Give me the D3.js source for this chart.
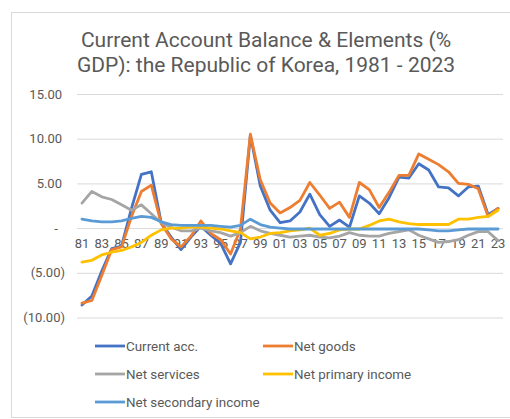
<!DOCTYPE html>
<html>
<head>
<meta charset="utf-8">
<script src="https://cdn.jsdelivr.net/npm/d3@7"></script>
<style>
  html, body { margin: 0; padding: 0; background: #fff; }
  svg { display: block; font-family: Roboto, "Noto Sans", sans-serif; }
</style>
</head>
<body>
<svg id="chart" width="510" height="419"></svg>
<script>
// Korea current account and its components, % of GDP, 1981-2023
const years = d3.range(1981, 2024);

const currentAcc = [-8.6, -7.6, -4.8, -2.3, -2.0, 2.2, 6.0, 6.3, 0.6, -1.0,
  -2.4, -1.0, 0.2, -0.8, -1.7, -4.0, -1.6, 10.4, 4.7, 2.0,
  0.6, 0.8, 1.8, 3.8, 1.5, 0.2, 0.9, 0.1, 3.6, 2.8,
  1.6, 3.4, 5.7, 5.6, 7.2, 6.5, 4.6, 4.5, 3.6, 4.6,
  4.7, 1.5, 2.2];

const netGoods = [-8.4, -8.1, -5.3, -2.4, -2.1, 1.3, 4.1, 4.8, 0.5, -1.2,
  -2.1, -0.9, 0.8, -0.6, -1.3, -2.9, -0.1, 10.5, 5.4, 2.8,
  1.7, 2.3, 3.1, 5.1, 3.7, 2.2, 2.9, 1.2, 5.1, 4.3,
  2.3, 4.0, 5.9, 5.9, 8.3, 7.7, 7.1, 6.3, 5.0, 4.9,
  4.4, 1.3, 2.2];

const netServices = [2.8, 4.1, 3.5, 3.2, 2.6, 2.0, 2.6, 1.6, 0.6, 0.1,
  -0.3, -0.3, 0.0, -0.3, -0.5, -0.9, -0.5, 0.2, -0.3, -0.6,
  -0.8, -1.0, -0.9, -0.8, -1.0, -1.1, -0.9, -0.5, -0.8, -0.9,
  -0.9, -0.6, -0.4, -0.2, -0.8, -1.2, -1.6, -1.5, -1.3, -0.8,
  -0.4, -0.4, -1.4];

const netPrimaryIncome = [-3.8, -3.6, -3.0, -2.7, -2.5, -2.1, -1.6, -0.8, -0.2, 0.0,
  0.0, 0.1, 0.1, 0.0, -0.1, -0.3, -0.5, -1.2, -1.0, -0.6,
  -0.5, -0.3, -0.2, 0.0, -0.8, -0.6, -0.2, -0.1, -0.1, 0.3,
  0.8, 1.0, 0.7, 0.5, 0.4, 0.4, 0.4, 0.4, 1.0, 1.0,
  1.2, 1.3, 2.0];

const netSecondaryIncome = [1.0, 0.8, 0.7, 0.7, 0.8, 1.1, 1.3, 1.2, 0.7, 0.4,
  0.3, 0.3, 0.3, 0.3, 0.2, 0.1, 0.3, 1.0, 0.4, 0.1,
  0.0, -0.1, -0.1, -0.1, -0.1, -0.1, -0.1, -0.1, -0.1, -0.1,
  -0.1, -0.1, -0.1, -0.1, -0.1, -0.2, -0.3, -0.3, -0.2, -0.1,
  -0.1, -0.1, -0.1];

const seriesNames = ["Current acc.", "Net goods", "Net services", "Net primary income", "Net secondary income"];
const seriesColors = ["#4472C4", "#ED7D31", "#A5A5A5", "#FFC000", "#5B9BD5"];
const seriesValues = [currentAcc, netGoods, netServices, netPrimaryIncome, netSecondaryIncome];

const yTicks = [-10, -5, 0, 5, 10, 15];
const xTickYears = years.filter((d, i) => i % 2 === 0);

const svg = d3.select("#chart");
const textColor = "#595959";

// chart frame
svg.append("rect")
  .attr("x", 11.5).attr("y", 12.5)
  .attr("width", 520).attr("height", 405)
  .attr("fill", "#fff").attr("stroke", "#d9d9d9");

// title
const title = svg.append("text")
  .attr("text-anchor", "middle")
  .attr("fill", textColor)
  .style("font-size", "21px");
title.append("tspan").attr("x", 266).attr("y", 47).text("Current Account Balance & Elements (%");
title.append("tspan").attr("x", 266).attr("y", 71.5).text("GDP): the Republic of Korea, 1981 - 2023");

const x = d3.scaleBand().domain(years).range([77, 503]);
const y = d3.scaleLinear().domain([-10, 15]).range([317.5, 94]);
const cx = d => x(d) + x.bandwidth() / 2;

// horizontal gridlines
svg.append("g")
  .attr("transform", "translate(77,0)")
  .call(d3.axisLeft(y).tickValues(yTicks).tickSize(-426).tickFormat(""))
  .call(g => g.select(".domain").remove())
  .call(g => g.selectAll(".tick line").attr("stroke", "#d9d9d9").attr("stroke-width", 1));

// value axis labels, accounting style
const fmt = d3.format(".2f");
const yAxis = svg.append("g")
  .attr("transform", "translate(62,0)")
  .call(d3.axisLeft(y).tickValues(yTicks).tickSize(0).tickPadding(0)
    .tickFormat(v => v === 0 ? "-" : v < 0 ? "(" + fmt(-v) + ")" : fmt(v)))
  .call(g => g.select(".domain").remove());
yAxis.selectAll(".tick text")
  .attr("fill", textColor)
  .style("font-size", "13px")
  .style("font-family", "Roboto, sans-serif")
  .attr("text-anchor", v => v === 0 ? "middle" : "end")
  .attr("x", v => v === 0 ? -6 : v < 0 ? 3 : 0);

// category axis labels at the zero line
const xAxis = svg.append("g")
  .attr("transform", `translate(0,${y(0)})`)
  .call(d3.axisBottom(x).tickValues(xTickYears).tickSize(0).tickPadding(11)
    .tickFormat(d => String(d).slice(2)))
  .call(g => g.select(".domain").remove());
xAxis.selectAll(".tick text")
  .attr("fill", textColor)
  .style("font-size", "13px")
  .style("font-family", "Roboto, sans-serif");

// series lines
const line = d3.line().x((d, i) => cx(years[i])).y(d => y(d));
seriesValues.forEach((vals, k) => {
  svg.append("path")
    .datum(vals)
    .attr("fill", "none")
    .attr("stroke", seriesColors[k])
    .attr("stroke-width", 2.8)
    .attr("stroke-linejoin", "round")
    .attr("stroke-linecap", "round")
    .attr("d", line);
});

// legend
const legendPos = [[95, 346], [263, 346], [95, 374], [263, 374], [95, 402]];
seriesNames.forEach((name, k) => {
  const [lx, ly] = legendPos[k];
  const g = svg.append("g");
  g.append("line")
    .attr("x1", lx).attr("x2", lx + 30)
    .attr("y1", ly).attr("y2", ly)
    .attr("stroke", seriesColors[k]).attr("stroke-width", 2.8);
  g.append("text")
    .attr("x", lx + 31).attr("y", ly)
    .attr("dy", "0.35em")
    .attr("fill", textColor)
    .style("font-size", "13.4px")
    .text(name);
});
</script>
</body>
</html>
